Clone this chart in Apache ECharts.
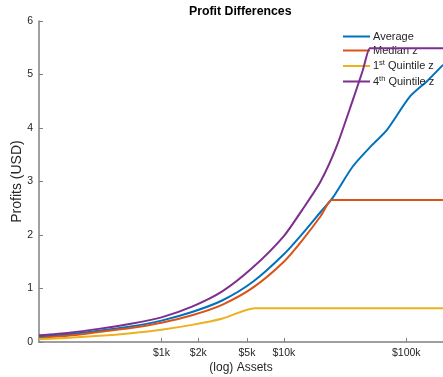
<!DOCTYPE html>
<html>
<head>
<meta charset="utf-8">
<script src="https://cdn.jsdelivr.net/npm/echarts@6/dist/echarts.min.js"></script>
<style>
  html, body { margin: 0; padding: 0; background: #fff; }
  #chart { width: 443px; height: 377px; }
</style>
</head>
<body>
<div id="chart"></div>
<script>
// Profit curves by asset level (assets in USD, profits in USD)
const avgAssets = [100, 178, 316, 562, 1000, 1778, 3162, 5623, 10000, 14125, 19953, 25120, 36560, 52480, 69340, 106900, 146900, 199500];
const avgProfit = [0.095, 0.145, 0.215, 0.29, 0.40, 0.56, 0.78, 1.13, 1.64, 2.02, 2.43, 2.70, 3.28, 3.68, 3.96, 4.585, 4.87, 5.18];

const medAssets = [100, 178, 316, 562, 1000, 1778, 3162, 5623, 10000, 14125, 19953, 24490, 25000, 199500];
const medProfit = [0.072, 0.12, 0.19, 0.26, 0.36, 0.50, 0.70, 1.02, 1.50, 1.90, 2.35, 2.654, 2.654, 2.654];

const q1Assets = [100, 178, 316, 562, 1000, 1778, 3162, 5794, 5900, 199500];
const q1Profit = [0.05, 0.08, 0.115, 0.165, 0.23, 0.32, 0.44, 0.632, 0.632, 0.632];

const q4Assets = [100, 178, 316, 562, 1000, 1778, 3162, 5623, 10000, 14125, 19953, 26915, 36560, 44160, 50350, 51400, 199500];
const q4Profit = [0.125, 0.175, 0.25, 0.34, 0.46, 0.66, 0.95, 1.40, 1.98, 2.47, 3.0, 3.65, 4.52, 5.08, 5.49, 5.49, 5.49];

const tickAssets = [1000, 2000, 5000, 10000, 100000];
const tickLabels = ['$1k', '$2k', '$5k', '$10k', '$100k'];
const yTicks = [0, 1, 2, 3, 4, 5, 6];

const seriesNames = ['Average', 'Median z', '1st Quintile z', '4th Quintile z'];
const seriesColors = ['#0072BD', '#D95319', '#EDB120', '#7E2F8E'];

// x positions are plotted on a log10 scale
const lg = v => Math.log10(v);
const pairs = (xs, ys) => xs.map((x, i) => [lg(x), ys[i]]);

const FONT = '"Liberation Sans", Arial, Helvetica, sans-serif';
const AXIS_GRAY = '#808080';
const TEXT = '#262626';

const chart = echarts.init(document.getElementById('chart'), null, { renderer: 'canvas' });

const dataSets = [
  pairs(avgAssets, avgProfit),
  pairs(medAssets, medProfit),
  pairs(q1Assets, q1Profit),
  pairs(q4Assets, q4Profit)
];

chart.setOption({
  animation: false,
  backgroundColor: '#fff',
  title: {
    text: 'Profit Differences',
    left: 189,
    padding: 0,
    top: 6,
    textStyle: { fontFamily: FONT, fontSize: 12.3, fontWeight: 'bold', color: '#000' }
  },
  legend: {
    orient: 'vertical',
    left: 343,
    top: 31,
    padding: 0,
    itemWidth: 27,
    itemHeight: 2,
    itemGap: 3,
    icon: 'rect',
    data: seriesNames,
    textStyle: {
      fontFamily: FONT, fontSize: 11, color: TEXT, padding: [0, 0, 0, -2],
      rich: {
        n: { fontFamily: FONT, fontSize: 11, color: TEXT },
        sup: { fontFamily: FONT, fontSize: 7.5, color: TEXT, verticalAlign: 'top', padding: [0, 0, 6, 0] }
      }
    },
    formatter: name => {
      const m = name.match(/^(\d)(st|th) (.*)$/);
      if (m) return '{n|' + m[1] + '}{sup|' + m[2] + '}{n| ' + m[3] + '}';
      return '{n|' + name + '}';
    }
  },
  grid: { left: 39, right: 0, top: 21, bottom: 35, containLabel: false, outerBoundsMode: 'none' },
  xAxis: {
    type: 'value',
    min: lg(100),
    max: lg(199500),
    name: '(log) Assets',
    nameLocation: 'middle',
    nameGap: 20,
    nameMoveOverlap: false,
    nameTextStyle: { fontFamily: FONT, fontSize: 12, color: TEXT },
    axisLine: { show: true, onZero: false, lineStyle: { color: AXIS_GRAY, width: 1.5 } },
    axisTick: { show: true, inside: true, length: 4, customValues: tickAssets.map(lg), lineStyle: { color: AXIS_GRAY } },
    axisLabel: {
      show: true,
      customValues: tickAssets.map(lg),
      fontFamily: FONT, fontSize: 10.5, color: TEXT, margin: 6,
      formatter: v => {
        const i = tickAssets.findIndex(t => Math.abs(lg(t) - v) < 1e-6);
        return i >= 0 ? tickLabels[i] : '';
      }
    },
    splitLine: { show: false }
  },
  yAxis: {
    type: 'value',
    min: 0,
    max: 6,
    interval: 1,
    name: 'Profits (USD)',
    nameLocation: 'middle',
    nameGap: 15,
    nameMoveOverlap: false,
    nameTextStyle: { fontFamily: FONT, fontSize: 14, color: TEXT },
    axisLine: { show: true, lineStyle: { color: AXIS_GRAY, width: 1.5 } },
    axisTick: { show: true, inside: true, length: 4, lineStyle: { color: AXIS_GRAY } },
    axisLabel: { fontFamily: FONT, fontSize: 10.5, color: TEXT, margin: 6,
      formatter: v => yTicks.includes(v) ? String(v) : '' },
    splitLine: { show: false }
  },
  series: seriesNames.map((name, i) => ({
    name,
    type: 'line',
    data: dataSets[i],
    showSymbol: false,
    smooth: 0.25,
    clip: true,
    color: seriesColors[i],
    lineStyle: { width: 2, color: seriesColors[i] },
    z: 2 + i
  }))
});
</script>
</body>
</html>
